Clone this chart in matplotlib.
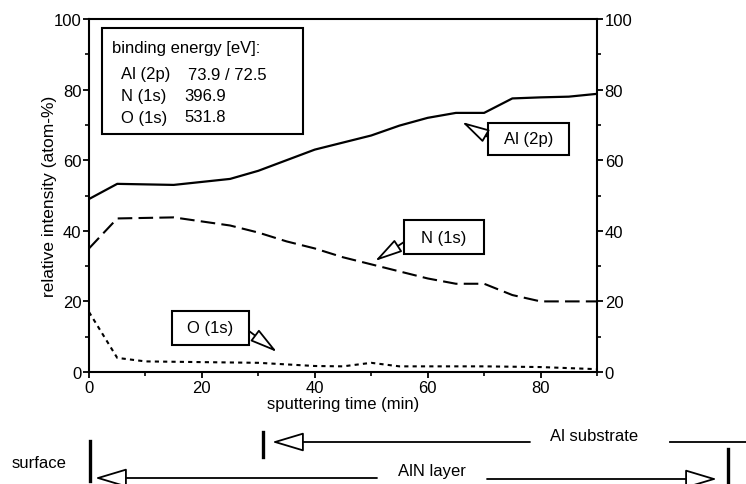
import matplotlib
matplotlib.use("Agg")
import matplotlib.pyplot as plt
from matplotlib.patches import Rectangle, FancyArrowPatch
from matplotlib.lines import Line2D

plt.rcParams['font.family'] = ['Liberation Sans', 'DejaVu Sans']

# ---- data ----
al_time = [0, 5, 15, 25, 30, 35, 40, 45, 50, 55, 60, 65, 70, 75, 80, 85, 90]
al_vals = [49, 53.3, 53, 54.7, 57, 60, 63, 65, 67, 69.8, 72, 73.4, 73.4, 77.5, 77.8, 78, 78.8]

n_time = [0, 5, 15, 25, 30, 35, 40, 45, 50, 55, 60, 65, 70, 75, 80, 85, 90]
n_vals = [35, 43.5, 43.8, 41.5, 39.5, 37, 35, 32.5, 30.5, 28.5, 26.5, 25, 25, 21.8, 20, 20, 20]

o_time = [0, 5, 10, 20, 30, 40, 45, 50, 55, 60, 70, 80, 90]
o_vals = [17, 4, 3, 2.8, 2.6, 1.7, 1.6, 2.6, 1.6, 1.6, 1.6, 1.4, 0.8]

major_ticks_x = [0, 20, 40, 60, 80]
minor_ticks_x = [10, 30, 50, 70, 90]
major_ticks_y = [0, 20, 40, 60, 80, 100]
minor_ticks_y = [10, 30, 50, 70, 90]

W, H = 746, 485
fig = plt.figure(figsize=(W / 100, H / 100), dpi=100)
ax = fig.add_axes([89 / W, 1 - 373 / H, (597 - 89) / W, (373 - 20) / H])

FS = 12
ax.plot(al_time, al_vals, color='black', lw=1.6, solid_capstyle='butt')
ax.plot(n_time, n_vals, color='black', lw=1.5, dashes=(7, 3))
ax.plot(o_time, o_vals, color='black', lw=1.5, dashes=(2, 2))

ax.set_xlim(0, 90)
ax.set_ylim(0, 100)
ax.set_xticks(major_ticks_x)
ax.set_xticks(minor_ticks_x, minor=True)
ax.set_yticks(major_ticks_y)
ax.set_yticks(minor_ticks_y, minor=True)
for s in ax.spines.values():
    s.set_linewidth(1.5)
ax.tick_params(axis='both', which='major', direction='out', length=4.5, width=1.3,
               labelsize=FS, pad=1)
ax.tick_params(axis='both', which='minor', direction='out', length=3, width=1.2)
ax.tick_params(axis='y', right=True, which='both', labelright=True)
ax.set_xlabel('sputtering time (min)', fontsize=FS, labelpad=1)
ax.set_ylabel('relative intensity (atom-%)', fontsize=12.5, labelpad=-2.5)

# legend box
ax.add_patch(Rectangle((102 / W, 1 - 135 / H), (303 - 102) / W, (135 - 29) / H,
                       transform=fig.transFigure, fill=False, ec='black', lw=1.5,
                       clip_on=False))
fig.text(112 / W, 1 - 48 / H, 'binding energy [eV]:', fontsize=FS, va='center')
rows = [('Al (2p)', '73.9 / 72.5', 75, 188), ('N (1s)', '396.9', 97, 184),
        ('O (1s)', '531.8', 118, 184)]
for lab, val, py, vx in rows:
    fig.text(121 / W, 1 - py / H, lab, fontsize=FS, va='center')
    fig.text(vx / W, 1 - py / H, val, fontsize=FS, va='center')


def px(x, y):
    return (x / W, 1 - y / H)


def callout(label, box, start, tip):
    x0, y0, x1, y1 = box
    fig.add_artist(Rectangle(px(x0, y1), (x1 - x0) / W, (y1 - y0) / H,
                             transform=fig.transFigure, fill=False, ec='black', lw=1.5))
    fig.text((x0 + x1) / 2 / W, 1 - (y0 + y1) / 2 / H, label, fontsize=FS,
             ha='center', va='center')
    arr = FancyArrowPatch(px(*start), px(*tip), transform=fig.transFigure,
                          arrowstyle='-|>,head_length=0.85,head_width=0.22',
                          mutation_scale=20, fc='white', ec='black', lw=1.3,
                          shrinkA=0, shrinkB=0)
    fig.add_artist(arr)


callout('Al (2p)', (488, 124, 569, 156), (488, 138), (462, 123))
callout('N (1s)', (404, 221, 484, 255), (404, 243), (375, 262))
callout('O (1s)', (172, 312, 249, 346), (249, 332), (277, 353))


# bottom annotations
def vbar(x, y0, y1):
    fig.add_artist(Line2D([x / W, x / W], [1 - y0 / H, 1 - y1 / H],
                          transform=fig.transFigure, color='black', lw=2.4))


def hline(x0, x1, y):
    fig.add_artist(Line2D([x0 / W, x1 / W], [1 - y / H, 1 - y / H],
                          transform=fig.transFigure, color='black', lw=1.3))


def harrow(x0, x1, y):
    fig.add_artist(FancyArrowPatch(px(x0, y), px(x1, y), transform=fig.transFigure,
                                   arrowstyle='-|>,head_length=1.0,head_width=0.3',
                                   mutation_scale=20, fc='white', ec='black', lw=1.3,
                                   shrinkA=0, shrinkB=0))


fig.text(39 / W, 1 - 463 / H, 'surface', fontsize=FS, ha='center', va='center')
vbar(90, 442, 482)
harrow(377, 95, 479)
fig.text(432 / W, 1 - 472 / H, 'AlN layer', fontsize=FS, ha='center', va='center')
harrow(487, 717, 480)
vbar(728, 450, 485)

vbar(263, 433, 458)
harrow(530, 272, 443)
fig.text(594 / W, 1 - 437 / H, 'Al substrate', fontsize=FS, ha='center', va='center')
hline(670, 746, 443)

fig.savefig('out.png', dpi=100)
